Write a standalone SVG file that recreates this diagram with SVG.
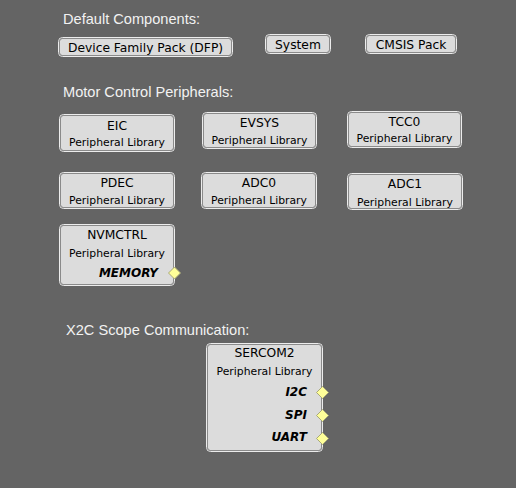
<svg xmlns="http://www.w3.org/2000/svg" width="516" height="488" viewBox="0 0 516 488">
<style>
.bg{fill:#646464}
.hdr{font-family:"Liberation Sans",Arial,sans-serif;font-size:14.6px;fill:#f2f2f2}
.o{fill:none;stroke:#ececec;stroke-width:1}
.i{fill:#dcdcdc;stroke:#8a8a8a;stroke-width:1}
.t{font-family:"DejaVu Sans",Verdana,sans-serif;font-size:12.3px;fill:#000;text-anchor:middle}
.s{font-family:"DejaVu Sans",Verdana,sans-serif;font-size:10.8px;fill:#000;text-anchor:middle}
.p{font-family:"DejaVu Sans",Verdana,sans-serif;font-size:12px;font-weight:bold;font-style:italic;fill:#000;text-anchor:end}
.d{fill:#ffff99;stroke:#a8a878;stroke-width:1}
</style>
<rect class="bg" x="0" y="0" width="516" height="488"/>
<text class="hdr" x="63" y="24">Default Components:</text>
<text class="hdr" x="63" y="97">Motor Control Peripherals:</text>
<text class="hdr" x="66" y="335">X2C Scope Communication:</text>

<g id="dfp">
<rect class="o" x="58.5" y="37.5" width="174" height="19" rx="4"/>
<rect class="i" x="59.5" y="38.5" width="172" height="17" rx="3"/>
<text class="t" x="145.5" y="52">Device Family Pack (DFP)</text>
</g>
<g id="system">
<rect class="o" x="265.5" y="34.5" width="65" height="19" rx="4"/>
<rect class="i" x="266.5" y="35.5" width="63" height="17" rx="3"/>
<text class="t" x="298" y="49">System</text>
</g>
<g id="cmsis">
<rect class="o" x="365.5" y="34.5" width="91" height="19" rx="4"/>
<rect class="i" x="366.5" y="35.5" width="89" height="17" rx="3"/>
<text class="t" x="411" y="49">CMSIS Pack</text>
</g>

<g id="eic">
<rect class="o" x="59.5" y="114.5" width="115" height="37" rx="4"/>
<rect class="i" x="60.5" y="115.5" width="113" height="35" rx="3"/>
<text class="t" x="117" y="130">EIC</text>
<text class="s" x="117" y="146">Peripheral Library</text>
</g>
<g id="evsys">
<rect class="o" x="202.5" y="112.5" width="114" height="36" rx="4"/>
<rect class="i" x="203.5" y="113.5" width="112" height="34" rx="3"/>
<text class="t" x="259.5" y="127">EVSYS</text>
<text class="s" x="259.5" y="143.5">Peripheral Library</text>
</g>
<g id="tcc0">
<rect class="o" x="347.5" y="111.5" width="114" height="36" rx="4"/>
<rect class="i" x="348.5" y="112.5" width="112" height="34" rx="3"/>
<text class="t" x="404.5" y="126">TCC0</text>
<text class="s" x="404.5" y="142">Peripheral Library</text>
</g>

<g id="pdec">
<rect class="o" x="59.5" y="172.5" width="115" height="36" rx="4"/>
<rect class="i" x="60.5" y="173.5" width="113" height="34" rx="3"/>
<text class="t" x="117" y="186.5">PDEC</text>
<text class="s" x="117" y="204">Peripheral Library</text>
</g>
<g id="adc0">
<rect class="o" x="201.5" y="172.5" width="115" height="36" rx="4"/>
<rect class="i" x="202.5" y="173.5" width="113" height="34" rx="3"/>
<text class="t" x="259" y="186.5">ADC0</text>
<text class="s" x="259" y="204">Peripheral Library</text>
</g>
<g id="adc1">
<rect class="o" x="347.5" y="173.5" width="115" height="36" rx="4"/>
<rect class="i" x="348.5" y="174.5" width="113" height="34" rx="3"/>
<text class="t" x="405" y="187.5">ADC1</text>
<text class="s" x="405" y="205.5">Peripheral Library</text>
</g>

<g id="nvmctrl">
<rect class="o" x="59.5" y="224.5" width="115" height="61" rx="4"/>
<rect class="i" x="60.5" y="225.5" width="113" height="59" rx="3"/>
<text class="t" x="117" y="239">NVMCTRL</text>
<text class="s" x="117" y="257">Peripheral Library</text>
<text class="p" x="158" y="277">MEMORY</text>
<path class="d" d="M174.5 267 L180.5 273 L174.5 279 L168.5 273 Z"/>
</g>

<g id="sercom2">
<rect class="o" x="206.5" y="343.5" width="116" height="108" rx="4"/>
<rect class="i" x="207.5" y="344.5" width="114" height="106" rx="3"/>
<text class="t" x="264.5" y="357">SERCOM2</text>
<text class="s" x="264.5" y="375">Peripheral Library</text>
<text class="p" x="307" y="396">I2C</text>
<text class="p" x="307" y="418.5">SPI</text>
<text class="p" x="307" y="441">UART</text>
<path class="d" d="M322.5 386.5 L328.5 392.5 L322.5 398.5 L316.5 392.5 Z"/>
<path class="d" d="M322.5 409.5 L328.5 415.5 L322.5 421.5 L316.5 415.5 Z"/>
<path class="d" d="M322.5 432.5 L328.5 438.5 L322.5 444.5 L316.5 438.5 Z"/>
</g>
<g id="connectors"></g>
</svg>
